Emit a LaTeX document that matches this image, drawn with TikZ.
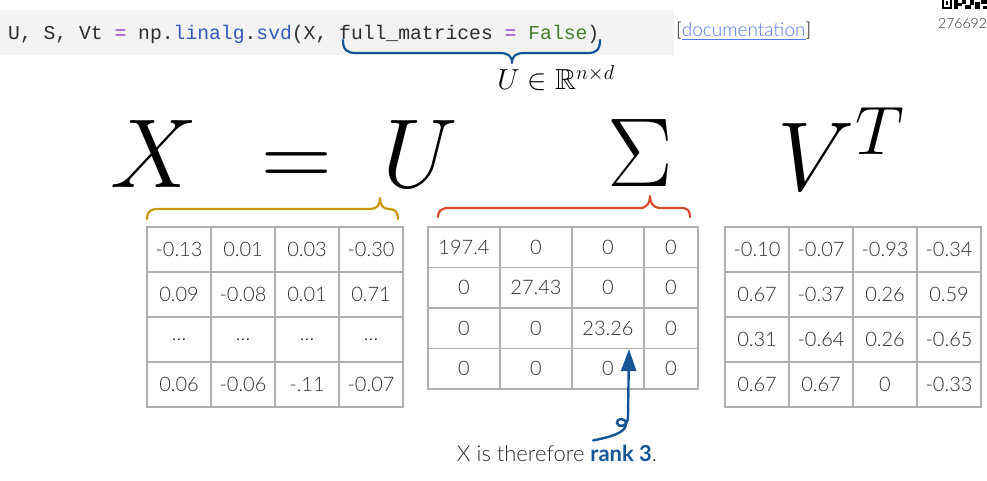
\RequirePackage{fix-cm}
\documentclass[tikz,border=0pt]{standalone}
\usepackage{amssymb}
\usepackage{fontspec}
\newfontfamily\numfont{Lato Light}[BoldFont = Lato Bold]
\newfontfamily\codefont{Liberation Mono}
\usepackage{tikz}
\usetikzlibrary{calc,arrows.meta}

\definecolor{codebg}{RGB}{243, 243, 243}
\definecolor{codepurple}{RGB}{150, 60, 200}
\definecolor{codeblue}{RGB}{50, 90, 190}
\definecolor{codegreen}{RGB}{70, 125, 40}
\definecolor{linkblue}{RGB}{80, 120, 235}
\definecolor{braceblue}{RGB}{20, 85, 150}
\definecolor{bracegold}{RGB}{200, 150, 10}
\definecolor{bracered}{RGB}{215, 75, 45}
\definecolor{cellgray}{RGB}{175, 175, 175}
\definecolor{numgray}{RGB}{45, 45, 45}

\tikzset{
  cell/.style = {
    draw       = cellgray,
    line width = 1.2pt,
    inner sep  = 0pt,
    text       = numgray,
    font       = \numfont\fontsize{20}{20}\selectfont
  },
  bigsym/.style = {
    anchor     = base,
    inner sep  = 0pt,
    font       = \fontsize{98}{98}\selectfont
  },
  bracestroke/.style = {
    line width = 2.2pt,
    line cap   = round,
    line join  = round
  },
  rankarrow/.style = {
    draw       = braceblue,
    line width = 2.4pt,
    line cap   = round,
    -{Triangle[width=15pt,length=22pt]}
  }
}

\begin{document}
\begin{tikzpicture}[x=1pt,y=-1pt]
  \useasboundingbox (0,0) rectangle (987,481);

  % code line
  \fill[codebg] (0,10) rectangle (674,55);
  \node[anchor=base west, inner sep=0pt, text=numgray,
        font=\codefont\fontsize{19.7}{20}\selectfont\frenchspacing] (code) at (8,40)
    {U, S, Vt {\color{codepurple}=} np.{\color{codeblue}linalg}.{\color{codeblue}svd}(X, full\_matrices {\color{codepurple}=} {\color{codegreen}False})};
  \node[anchor=base west, inner sep=0pt,
        font=\numfont\fontsize{19}{20}\selectfont] (doc) at (676,37)
    {[{\color{linkblue}\underline{documentation}}]};

  % qr corner
  \fill (942,0) rectangle (952,9);
  \fill[white] (944,0) rectangle (950,7);
  \fill (946,1) rectangle (948,5);
  \fill (954,0) rectangle (958,9);
  \fill (958,3) rectangle (962,6);
  \fill (962,0) rectangle (966,4);
  \fill (965,5) rectangle (971,9);
  \fill (970,0) rectangle (974,5);
  \fill (975,2) rectangle (980,9);
  \fill (981,0) rectangle (987,4);
  \fill (983,6) rectangle (987,9);
  \node[anchor=base west, inner sep=0pt, text=numgray,
        font=\numfont\fontsize{14}{14}\selectfont] (qrid) at (938,29) {2766928};

  % blue brace under full_matrices
  \draw[bracestroke, braceblue]
    (343,40) .. controls (343,50) and (347,53) .. (356,53) -- (500,53)
    .. controls (508,53) and (512,56) .. (512,63)
    .. controls (512,56) and (516,53) .. (524,53) -- (588,53)
    .. controls (596,53) and (600,50) .. (600,40);
  \node[anchor=base, inner sep=0pt, font=\fontsize{29}{30}\selectfont] (udim) at (556,90)
    {$U \in \mathbb{R}^{n\times d}$};

  % the equation
  \node[bigsym] (X)   at (154,188) {$X$};
  \node[bigsym] (eq)  at (297,188) {$=$};
  \node[bigsym] (U)   at (420,188) {$U$};
  \node[bigsym] (S)   at (640,186) {$\Sigma$};
  \node[bigsym] (VT)  at (841,190) {$V^T$};

  % braces over U and Sigma
  \draw[bracestroke, bracegold]
    (147,219) .. controls (147,212) and (150,209) .. (158,209) -- (370,209)
    .. controls (377,209) and (380,205) .. (380,198)
    .. controls (380,205) and (383,209) .. (389,209)
    .. controls (395,209) and (398,212) .. (398,219);
  \draw[bracestroke, bracered]
    (438,217) .. controls (438,211) and (441,208) .. (449,208) -- (640,208)
    .. controls (647,208) and (650,203) .. (650,196)
    .. controls (650,203) and (653,208) .. (661,208) -- (681,208)
    .. controls (688,208) and (690,211) .. (690,217);

  % U
  \foreach \vals [count=\r] in {{-0.13,0.01,0.03,-0.30},{0.09,-0.08,0.01,0.71},
      {\textellipsis,\textellipsis,\textellipsis,\textellipsis},{0.06,-0.06,-.11,-0.07}}{
    \foreach \v [count=\c] in \vals
      \node[cell, minimum width=64pt, minimum height=45pt] (u-\r-\c)
        at ({147+64*(\c-0.5)},{227+45*(\r-0.5)}) {\v};
  }

  % Sigma
  \foreach \vals [count=\r] in {{197.4,0,0,0},{0,27.43,0,0},{0,0,23.26,0},{0,0,0,0}}{
    \foreach \v [count=\c] in \vals {
      \pgfmathsetmacro\sx{{464,536,608,671}[\c-1]}
      \pgfmathsetmacro\sw{{72,72,72,54}[\c-1]}
      \node[cell, minimum width=\sw pt, minimum height=40.5pt] (s-\r-\c)
        at (\sx,{227+40.5*(\r-0.5)}) {\v};
    }
  }

  % V^T
  \foreach \vals [count=\r] in {{-0.10,-0.07,-0.93,-0.34},{0.67,-0.37,0.26,0.59},
      {0.31,-0.64,0.26,-0.65},{0.67,0.67,0,-0.33}}{
    \foreach \v [count=\c] in \vals
      \node[cell, minimum width=64pt, minimum height=45pt] (v-\r-\c)
        at ({725+64*(\c-0.5)},{227+45*(\r-0.5)}) {\v};
  }

  % rank note
  \node[anchor=base, inner sep=0pt, text=numgray,
        font=\numfont\fontsize{22}{24}\selectfont] (note) at (557,461)
    {X is therefore {\bfseries\color{braceblue}rank 3}.};
  \draw[rankarrow] ($(note.north)+(36,-4)$)
    .. controls (610,437) and (626,433) .. (626,424)
    .. controls (626,417) and (616,418) .. (617,423)
    .. controls (618,428) and (628,427) .. (628,417)
    -- ($(s-3-3.south)+(21,0)$);
\end{tikzpicture}
\end{document}
